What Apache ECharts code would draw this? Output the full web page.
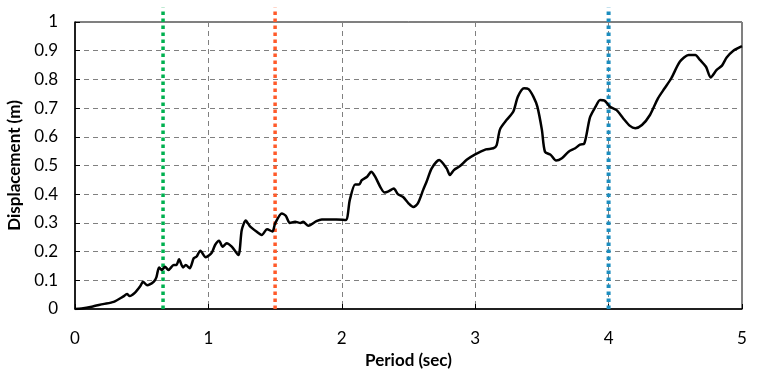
<!DOCTYPE html>
<html><head><meta charset="utf-8">
<script src="https://cdn.jsdelivr.net/npm/echarts@6/dist/echarts.min.js"></script>
<style>html,body{margin:0;padding:0;background:#fff}#c{width:765px;height:370px}</style>
</head><body><div id="c"></div>
<script>
const periods = [0,0.05,0.125,0.21,0.29,0.36,0.39,0.41,0.45,0.49,0.51,0.54,0.59,0.61,0.63,0.65,0.675,0.70,0.74,0.76,0.78,0.81,0.83,0.86,0.89,0.91,0.94,0.98,1.025,1.05,1.08,1.107,1.137,1.175,1.225,1.25,1.28,1.31,1.36,1.40,1.44,1.48,1.50,1.55,1.58,1.61,1.65,1.69,1.71,1.75,1.81,1.85,1.96,2.03,2.06,2.10,2.13,2.15,2.19,2.22,2.25,2.29,2.32,2.35,2.39,2.42,2.46,2.50,2.536,2.57,2.61,2.636,2.674,2.73,2.786,2.81,2.84,2.886,2.936,3.0,3.08,3.136,3.16,3.186,3.236,3.286,3.32,3.366,3.40,3.436,3.466,3.50,3.523,3.566,3.606,3.65,3.70,3.75,3.786,3.816,3.86,3.90,3.936,3.97,4.01,4.06,4.11,4.16,4.20,4.25,4.31,4.37,4.42,4.47,4.535,4.60,4.65,4.685,4.73,4.765,4.81,4.85,4.885,4.935,5.0];
const displacement = [0,0.002,0.008,0.017,0.025,0.043,0.052,0.045,0.057,0.080,0.095,0.083,0.095,0.11,0.145,0.136,0.147,0.136,0.153,0.153,0.173,0.145,0.153,0.142,0.177,0.182,0.203,0.18,0.196,0.223,0.238,0.217,0.229,0.217,0.188,0.275,0.308,0.289,0.27,0.258,0.278,0.27,0.298,0.333,0.325,0.30,0.304,0.30,0.304,0.29,0.306,0.312,0.312,0.31,0.38,0.434,0.434,0.449,0.461,0.478,0.461,0.424,0.406,0.41,0.42,0.40,0.39,0.368,0.355,0.368,0.415,0.444,0.49,0.519,0.49,0.467,0.484,0.498,0.52,0.539,0.556,0.56,0.57,0.626,0.659,0.688,0.74,0.769,0.766,0.74,0.705,0.624,0.548,0.537,0.517,0.525,0.548,0.56,0.573,0.575,0.667,0.703,0.728,0.726,0.705,0.693,0.664,0.638,0.63,0.641,0.676,0.734,0.769,0.804,0.862,0.885,0.885,0.868,0.844,0.807,0.833,0.848,0.876,0.90,0.916];
const markerPeriods = [0.66, 1.5, 4.0];
const markerColors = ['#00B050', '#FF5A2A', '#1B8DBF'];
const markerTop = 1.05;

const chart = echarts.init(document.getElementById('c'));
const font = 'Lato, "Open Sans", sans-serif';
const lineData = periods.map((p, i) => [p, displacement[i]]);
const markerSeries = markerPeriods.map((p, i) => ({
  type: 'line', data: [[p, 0], [p, markerTop]], clip: false, silent: true,
  showSymbol: false, symbol: 'none',
  lineStyle: {color: markerColors[i], width: i === 2 ? 4 : 3.5, type: [3.5, 3.5]},
  z: 3
}));
chart.setOption({
  animation: false,
  grid: {left: 75, right: 23, top: 22, bottom: 61, show: true, borderColor: '#000', borderWidth: 1, outerBoundsMode: 'none', containLabel: false},
  xAxis: {
    type: 'value', min: 0, max: 5, interval: 1,
    name: 'Period (sec)', nameLocation: 'middle', nameGap: 38,
    nameTextStyle: {fontFamily: font, fontWeight: 'bold', fontSize: 17, color: '#000'},
    axisLine: {lineStyle: {color: '#000', width: 1.5}},
    axisTick: {show: true, inside: true, length: 5, lineStyle: {color: '#000'}},
    axisLabel: {fontFamily: font, fontSize: 17, color: '#000', margin: 21},
    splitLine: {show: true, lineStyle: {color: '#808080', type: [5, 4]}}
  },
  yAxis: {
    type: 'value', min: 0, max: 1, interval: 0.1,
    name: 'Displacement (m)', nameLocation: 'middle', nameGap: 52, nameRotate: 90,
    nameTextStyle: {fontFamily: font, fontWeight: 'bold', fontSize: 17, color: '#000'},
    axisLine: {show: true, lineStyle: {color: '#000', width: 1.5}},
    axisTick: {show: true, inside: true, length: 5, lineStyle: {color: '#000'}},
    axisLabel: {fontFamily: font, fontSize: 17, color: '#000', margin: 17},
    splitLine: {show: true, lineStyle: {color: '#808080', type: [5, 4]}}
  },
  series: [
    ...markerSeries,
    {type: 'line', data: lineData, showSymbol: false, smooth: 0.25,
     lineStyle: {color: '#000', width: 2.5}, z: 5}
  ]
});
</script></body></html>
